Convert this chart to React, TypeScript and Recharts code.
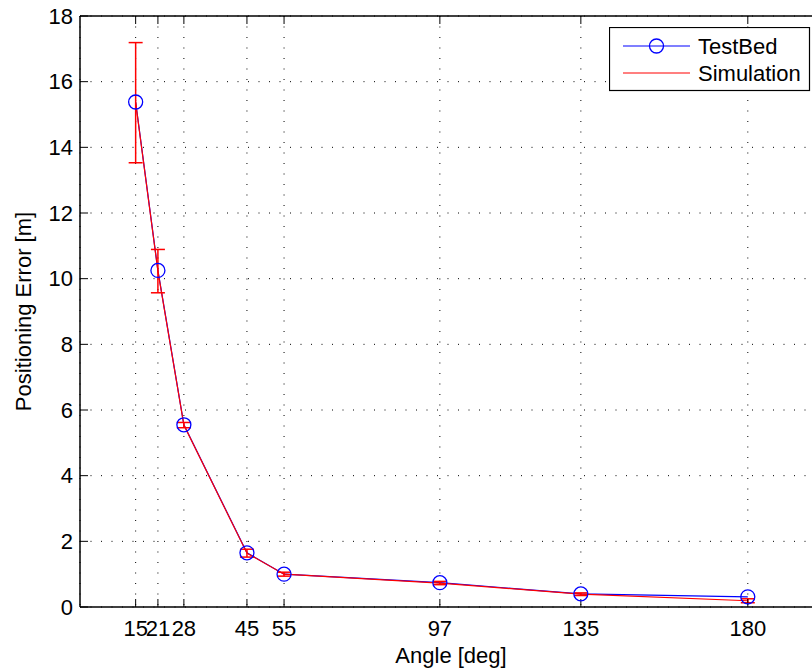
import React from 'react';
import { LineChart, Line, XAxis, YAxis, CartesianGrid, ErrorBar, Legend, Label } from 'recharts';

const angles = [15, 21, 28, 45, 55, 97, 135, 180];
const testBed = [15.38, 10.25, 5.55, 1.65, 1.0, 0.74, 0.4, 0.31];
const simulation = [15.36, 10.23, 5.54, 1.64, 1.0, 0.73, 0.39, 0.19];
const simulationErr = [1.83, 0.66, 0.08, 0.12, 0.06, 0.05, 0.04, 0.06];
const xTicks = [15, 21, 28, 45, 55, 97, 135, 180];
const yTicks = [0, 2, 4, 6, 8, 10, 12, 14, 16, 18];

const data = angles.map((a, i) => ({
  angle: a,
  testBed: testBed[i],
  simulation: simulation[i],
  simErr: simulationErr[i],
}));

const FONT = '"Liberation Sans", Arial, Helvetica, sans-serif';
const FS = 22;

const LegendBox = () => (
  <svg width={202} height={65} style={{ display: 'block' }}>
    <rect x={0.5} y={0.5} width={200} height={63} fill="#fff" stroke="#000" strokeWidth={1.2} />
    <line x1={14} y1={19} x2={81} y2={19} stroke="#0000ff" strokeWidth={1.2} />
    <circle cx={47.5} cy={19} r={7} fill="none" stroke="#0000ff" strokeWidth={1.3} />
    <text x={89} y={27} fontFamily={FONT} fontSize={FS} fill="#000">TestBed</text>
    <line x1={14} y1={46} x2={81} y2={46} stroke="#ff0000" strokeWidth={1.2} />
    <text x={89} y={54} fontFamily={FONT} fontSize={FS} fill="#000">Simulation</text>
  </svg>
);

export default function App() {
  return (
    <div style={{ position: 'fixed', left: 0, top: 0, width: 812, height: 669, overflow: 'hidden', background: '#fff' }}>
      <LineChart
        width={832}
        height={669}
        data={data}
        margin={{ top: 15, right: 10, bottom: 32, left: 20 }}
        style={{ fontFamily: FONT }}
      >
        <CartesianGrid stroke="#000" strokeDasharray="1 9.5" strokeWidth={1} />
        <XAxis
          xAxisId="top"
          orientation="top"
          dataKey="angle"
          type="number"
          domain={[0, 200]}
          ticks={xTicks}
          height={1}
          tickSize={-8}
          tickFormatter={() => ''}
          axisLine={{ stroke: '#000', strokeWidth: 1.5 }}
          tickLine={{ stroke: '#000', strokeWidth: 1 }}
          allowDataOverflow
        />
        <XAxis
          dataKey="angle"
          type="number"
          domain={[0, 200]}
          ticks={xTicks}
          height={30}
          tickSize={-8}
          tickMargin={21}
          interval={0}
          tick={{ fill: '#000', fontSize: FS, fontFamily: FONT }}
          axisLine={{ stroke: '#000', strokeWidth: 1.5 }}
          tickLine={{ stroke: '#000', strokeWidth: 1 }}
          allowDataOverflow
        >
          <Label
            content={({ viewBox }: any) => (
              <text
                x={viewBox.x + viewBox.width / 2}
                y={663}
                textAnchor="middle"
                fontFamily={FONT}
                fontSize={FS}
                fill="#000"
              >
                Angle [deg]
              </text>
            )}
          />
        </XAxis>
        <YAxis
          type="number"
          domain={[0, 18]}
          ticks={yTicks}
          width={60}
          tickSize={-8}
          tickMargin={15}
          interval={0}
          tick={{ fill: '#000', fontSize: FS, fontFamily: FONT }}
          axisLine={{ stroke: '#000', strokeWidth: 1.5 }}
          tickLine={{ stroke: '#000', strokeWidth: 1 }}
        >
          <Label
            content={({ viewBox }: any) => {
              const cx = 31;
              const cy = viewBox.y + viewBox.height / 2;
              return (
                <text
                  x={cx}
                  y={cy}
                  textAnchor="middle"
                  transform={`rotate(-90, ${cx}, ${cy})`}
                  fontFamily={FONT}
                  fontSize={FS}
                  fill="#000"
                >
                  Positioning Error [m]
                </text>
              );
            }}
          />
        </YAxis>
        <Legend
          layout="horizontal"
          verticalAlign="middle"
          align="center"
          content={() => <LegendBox />}
          wrapperStyle={{ position: 'absolute', left: 609, top: 27, width: 202, height: 65 }}
        />
        <Line
          name="TestBed"
          dataKey="testBed"
          stroke="#0000ff"
          strokeWidth={1.2}
          dot={{ r: 7, stroke: '#0000ff', fill: 'none', strokeWidth: 1.3 }}
          activeDot={false}
          isAnimationActive={false}
        />
        <Line
          name="Simulation"
          dataKey="simulation"
          stroke="#ff0000"
          strokeWidth={1.2}
          dot={false}
          activeDot={false}
          isAnimationActive={false}
        >
          <ErrorBar dataKey="simErr" direction="y" width={7} stroke="#ff0000" strokeWidth={1.5} />
        </Line>
      </LineChart>
    </div>
  );
}
